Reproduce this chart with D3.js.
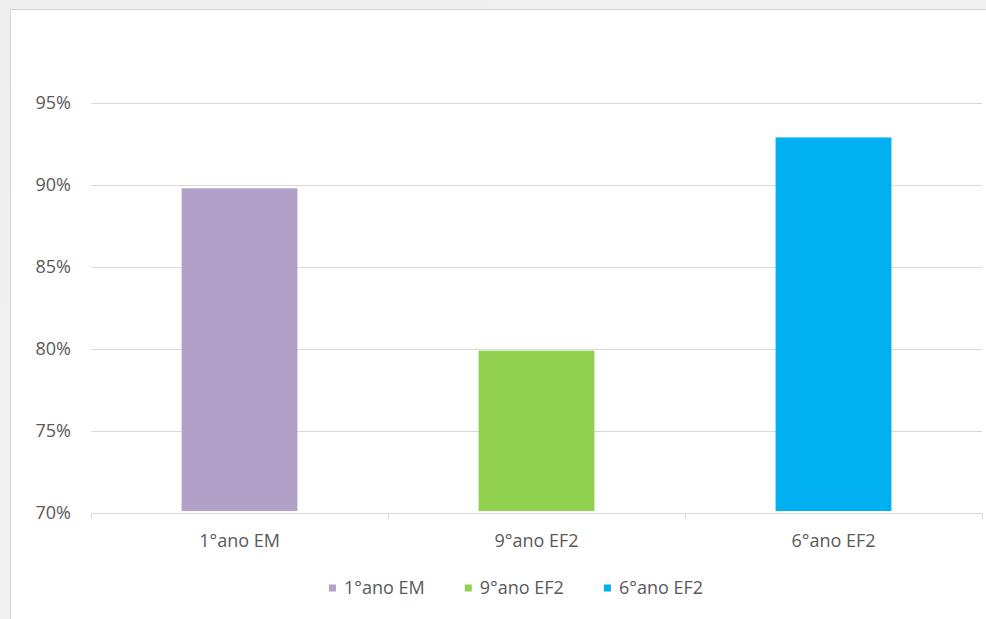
<!DOCTYPE html>
<html>
<head>
<meta charset="utf-8">
<script src="https://cdn.jsdelivr.net/npm/d3@7"></script>
<style>
  html, body { margin: 0; padding: 0; }
  body { width: 986px; height: 619px; overflow: hidden; background: #f1f1f1; }
  svg { display: block; }
  text { font-family: "Open Sans", "Noto Sans", sans-serif; fill: #595959; }
</style>
</head>
<body>
<svg id="chart" width="986" height="619"></svg>
<script>
// Share of students per grade
const categories = ["1°ano EM", "9°ano EF2", "6°ano EF2"];
const values = [0.898, 0.799, 0.929];
const colors = ["#b1a0c7", "#92d050", "#00b0f0"];
const yTicks = [0.70, 0.75, 0.80, 0.85, 0.90, 0.95];

const fontSize = "18px";
const svg = d3.select("#chart");

// soft grey backdrop with the white chart panel on top
const defs = svg.append("defs");
const grad = defs.append("linearGradient").attr("id", "bg").attr("x1", 0).attr("y1", 0).attr("x2", 1).attr("y2", 1);
grad.append("stop").attr("offset", "0%").attr("stop-color", "#eeeeee");
grad.append("stop").attr("offset", "100%").attr("stop-color", "#f4f4f4");
svg.append("rect").attr("width", 986).attr("height", 619).attr("fill", "url(#bg)");
svg.append("rect").attr("x", 10.5).attr("y", 9.5).attr("width", 1000).attr("height", 700)
  .attr("fill", "#ffffff").attr("stroke", "#d4d4d4");

const plot = { left: 91, right: 982, top: 103, bottom: 513 };

const x = d3.scaleBand().domain(categories).range([plot.left, plot.right]).paddingInner(0.61).paddingOuter(0.305);
const xOuter = d3.scaleBand().domain(categories).range([plot.left, plot.right]);
const y = d3.scaleLinear().domain([0.70, 0.95]).range([plot.bottom, plot.top]);

// horizontal gridlines
svg.append("g").selectAll("line").data(yTicks.slice(1)).join("line")
  .attr("x1", plot.left).attr("x2", plot.right)
  .attr("y1", d => Math.round(y(d)) + 0.5).attr("y2", d => Math.round(y(d)) + 0.5)
  .attr("stroke", "#d9d9d9").attr("stroke-width", 1);

// y axis labels
const yAxis = d3.axisLeft(y).tickValues(yTicks).tickFormat(d3.format(".0%")).tickSize(0).tickPadding(20);
const gy = svg.append("g").attr("transform", `translate(${plot.left},0)`).call(yAxis);
gy.select(".domain").remove();
gy.selectAll("text").style("font-size", fontSize).attr("fill", "#595959");

// bars
svg.append("g").selectAll("rect").data(categories).join("rect")
  .attr("x", d => x(d))
  .attr("width", x.bandwidth())
  .attr("y", (d, i) => y(values[i]))
  .attr("height", (d, i) => y(0.70) - y(values[i]) - 2)
  .attr("fill", (d, i) => colors[i]);

// category axis with boundary ticks
const gx = svg.append("g").attr("transform", `translate(0,${Math.round(plot.bottom) + 0.5})`);
gx.append("line").attr("x1", plot.left).attr("x2", plot.right).attr("stroke", "#d9d9d9");
const bounds = [plot.left, ...categories.map(c => xOuter(c) + xOuter.bandwidth())];
gx.selectAll("line.tick").data(bounds).join("line").attr("class", "tick")
  .attr("x1", d => Math.round(d) + 0.5).attr("x2", d => Math.round(d) + 0.5)
  .attr("y1", 0).attr("y2", 6).attr("stroke", "#d9d9d9");
gx.selectAll("text").data(categories).join("text")
  .attr("x", d => xOuter(d) + xOuter.bandwidth() / 2)
  .attr("y", 33)
  .attr("text-anchor", "middle")
  .style("font-size", fontSize)
  .text(d => d);

// legend
const legend = svg.append("g").attr("transform", "translate(0,588)");
const items = legend.selectAll("g").data(categories).join("g");
items.append("rect").attr("width", 7).attr("height", 7).attr("y", -3.5).attr("fill", (d, i) => colors[i]);
items.append("text").attr("x", 15).attr("dy", "0.35em").style("font-size", fontSize).text(d => d);
const gap = 40;
const widths = [];
items.each(function() { widths.push(this.getBBox().width); });
let cx = 329;
items.attr("transform", (d, i) => {
  const t = `translate(${cx},0)`;
  cx += widths[i] + gap;
  return t;
});
</script>
</body>
</html>
